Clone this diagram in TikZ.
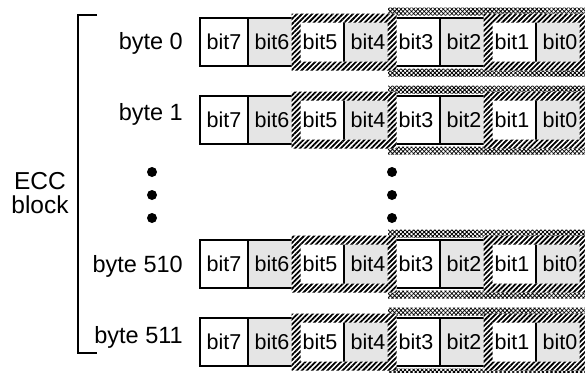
\documentclass[tikz,border=0pt]{standalone}
\usepackage{fontspec}
\setmainfont{Liberation Sans}
\usetikzlibrary{patterns.meta}
\begin{document}
\begin{tikzpicture}[x=1pt,y=-1pt,
 cell/.style={draw, line width=1.6pt, minimum width=48pt, minimum height=48pt, inner sep=0pt, font=\fontsize{21.5}{24}\selectfont},
 lab/.style={anchor=base east, font=\fontsize{23.5}{28}\selectfont, inner sep=0pt},
 dot/.style={circle, fill=black, inner sep=0pt, minimum size=10pt},
 hatchband/.style={pattern={Lines[angle=45,distance=3.6pt,line width=1.8pt]}, even odd rule},
 whiteband/.style={fill=white, even odd rule},
 crossband/.style={pattern={Hatch[angle=45,distance=3pt,line width=0.8pt]}, even odd rule},
 bracket/.style={line width=1.8pt}]
\useasboundingbox (0,0) rectangle (585,372);
\foreach \r/\t/\lb/\name in {0/18/49/byte 0, 1/96/120/byte 1, 2/240/272/byte 510, 3/318/343/byte 511} {
  % cross-hatched band round bit3..bit0
  \fill[crossband] (388,\t-10.5) rectangle (596,\t+58.5) (396,\t-2.5) rectangle (588,\t+50.5);
  % cells
  \foreach \i in {0,...,7} {
    \pgfmathtruncatemacro{\b}{7-\i}
    \pgfmathtruncatemacro{\odd}{mod(\i,2)}
    \ifnum\odd=1
      \node[cell, fill=gray!20] (c\r-\i) at (224+48*\i,\t+24) {bit\b};
    \else
      \node[cell, fill=white] (c\r-\i) at (224+48*\i,\t+24) {bit\b};
    \fi
  }
  % hatched bands round bit5-bit4 and bit1-bit0
  \foreach \x in {296,488} {
    \fill[whiteband] (\x-4.5,\t-4.5) rectangle (\x+100.5,\t+52.5) (\x+4.5,\t+4.5) rectangle (\x+91.5,\t+43.5);
    \fill[hatchband] (\x-4.5,\t-4.5) rectangle (\x+100.5,\t+52.5) (\x+4.5,\t+4.5) rectangle (\x+91.5,\t+43.5);
  }
  % label
  \node[lab] (lab\r) at (183,\lb) {\name};
}
% dots
\node[dot] (dl1) at (152,172) {};
\node[dot] (dl2) at (152,195) {};
\node[dot] (dl3) at (152,218) {};
\node[dot] (dr1) at (392,172) {};
\node[dot] (dr2) at (392,195) {};
\node[dot] (dr3) at (392,218) {};
% bracket
\coordinate (bt) at (97,15);
\coordinate (bb) at (97,353);
\draw[bracket] (bt) -- (78,15) -- (78,353) -- (bb);
\node[align=center, font=\fontsize{24.5}{24}\selectfont, inner sep=0pt] (ecc) at (40,193) {ECC\\block};
\end{tikzpicture}
\end{document}
